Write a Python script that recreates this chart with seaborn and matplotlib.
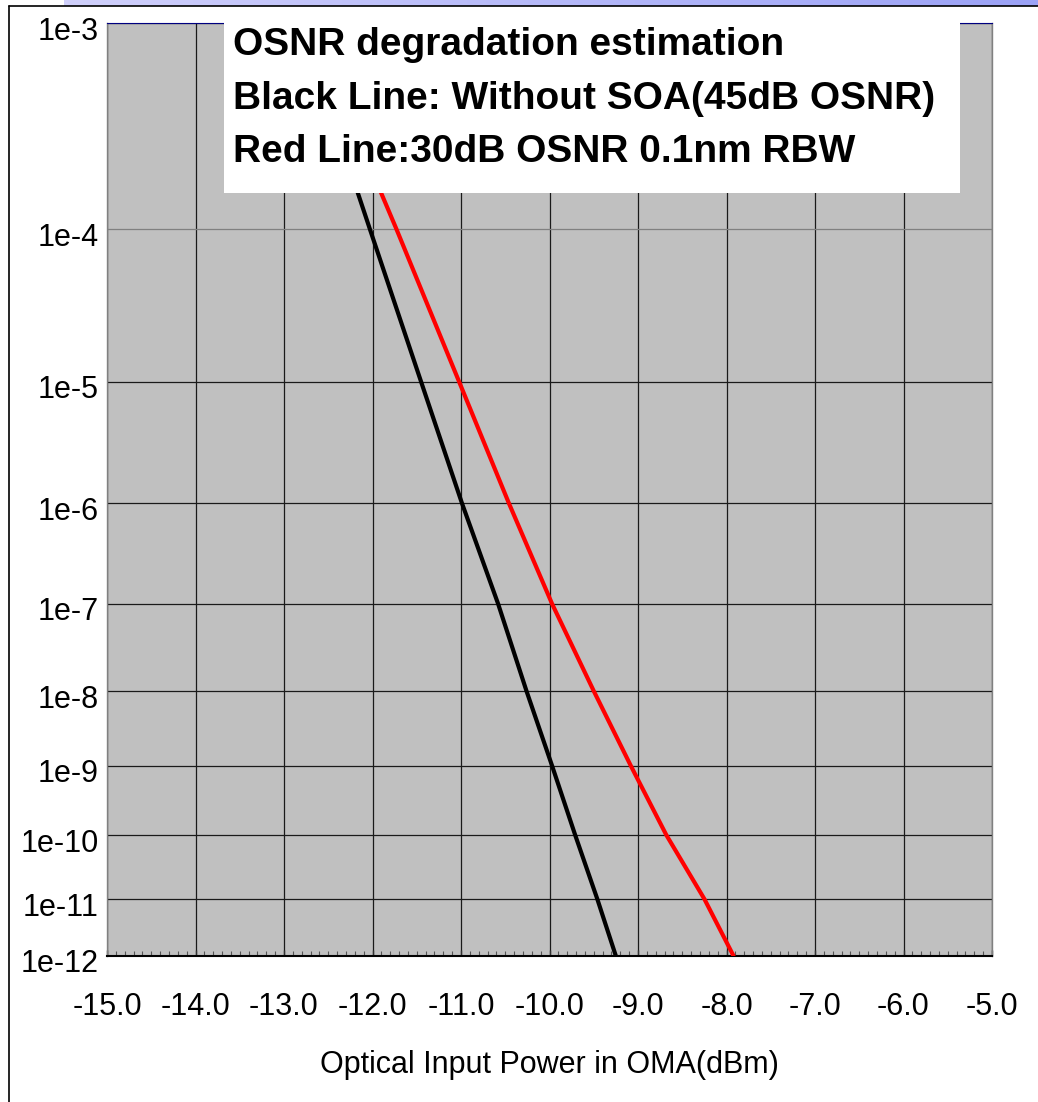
"""
plot.py  ---  BER vs puissance optique (OMA), estimation degradation OSNR
"""
import numpy as np
import pandas as pd
import matplotlib
matplotlib.use("Agg")
import matplotlib.pyplot as plt
import matplotlib.scale as mscale
from matplotlib.colors import LinearSegmentedColormap
from matplotlib.lines import Line2D
from matplotlib.patches import Rectangle
from matplotlib.ticker import MultipleLocator, NullLocator, FormatStrFormatter
from matplotlib.transforms import ScaledTranslation
import seaborn as sns

# --- donnees (BER par decade) ---
BER = [3e-4, 1e-4, 1e-5, 1e-6, 1e-7, 1e-8, 1e-9, 1e-10, 1e-11, 1e-12]
P_BLACK = [-12.40, -12.03, -11.45, -10.99, -10.58, -10.26, -9.97, -9.71, -9.46, -9.25]
P_RED = [-12.20, -11.73, -11.02, -10.46, -9.97, -9.50, -9.08, -8.68, -8.25, -7.92]
SERIES = ["Without SOA", "30dB OSNR"]

BER_TICKS = [1e-3, 1e-4, 1e-5, 1e-6, 1e-7, 1e-8, 1e-9, 1e-10, 1e-11, 1e-12]
YTICK_LABELS = ["1e-3", "1e-4", "1e-5", "1e-6", "1e-7", "1e-8", "1e-9", "1e-10", "1e-11", "1e-12"]
TITLE_LINES = ["OSNR degradation estimation",
               "Black Line: Without SOA(45dB OSNR)",
               "Red Line:30dB OSNR 0.1nm RBW"]

# echelle BER non uniforme : hauteur (px) de chaque decade au-dessus de 1e-12
EXPS = np.arange(-12, -2)
HEIGHTS = np.array([0, 57, 121, 190, 265, 352, 453, 574, 727, 933], float)


def ber_fwd(y):
    y = np.asarray(y, float)
    e = np.log10(np.clip(y, 1e-300, None))
    return np.interp(e, EXPS, HEIGHTS)


def ber_inv(h):
    return 10.0 ** np.interp(np.asarray(h, float), HEIGHTS, EXPS)


sns.set_theme(style="white")
plt.rcParams["font.family"] = ["Liberation Sans", "DejaVu Sans"]
plt.rcParams.update({"text.color": "black", "axes.labelcolor": "black",
                     "xtick.color": "black", "ytick.color": "black"})

W, H = 1038, 1102
fig = plt.figure(figsize=(W / 100, H / 100), dpi=100)
fig.patch.set_facecolor("white")

# bandeau degrade en haut + cadre
band = fig.add_axes([64 / W, 1 - 6 / H, 1 - 64 / W, 6 / H])
band.imshow(np.linspace(0, 1, 256)[None, :], aspect="auto",
            cmap=LinearSegmentedColormap.from_list("b", ["#d0d0fb", "#9ba2f6"]))
band.axis("off")
fig.add_artist(Line2D([9 / W, 1], [1 - 6 / H, 1 - 6 / H], color="black", lw=1.2))
fig.add_artist(Line2D([9 / W, 9 / W], [0, 1 - 6 / H], color="black", lw=1.2))

ax = fig.add_axes([107 / W, (H - 956) / H, 885 / W, 933 / H])
ax.set_facecolor("#c0c0c0")

df = pd.concat([
    pd.DataFrame({"power": P_BLACK, "ber": BER, "serie": SERIES[0]}),
    pd.DataFrame({"power": P_RED, "ber": BER, "serie": SERIES[1]}),
])
ax.set_yscale(mscale.FuncScale(ax.yaxis, (ber_fwd, ber_inv)))
sns.lineplot(data=df, x="power", y="ber", hue="serie", palette=["black", "#ff0000"],
             sort=False, estimator=None, lw=3, legend=False, ax=ax, zorder=3)

ax.set_xlim(-15, -5)
ax.set_ylim(1e-12, 1e-3)
ax.set_xticks(np.arange(-15, -4, 1.0))
ax.xaxis.set_major_formatter(FormatStrFormatter("%.1f"))
ax.xaxis.set_minor_locator(MultipleLocator(0.1))
ax.set_yticks(BER_TICKS, labels=YTICK_LABELS)
ax.yaxis.set_minor_locator(NullLocator())

ax.grid(True, which="major", color="#1a1a1a", lw=0.9)
ax.get_ygridlines()[1].set_color("#808080")
ax.tick_params(axis="x", which="major", direction="in", length=4, width=1,
               color="#333333", labelsize=22, pad=26, bottom=True)
ax.tick_params(axis="x", which="minor", direction="in", length=3.5, width=0.8,
               color="#555555", bottom=True)
ax.tick_params(axis="y", length=0, labelsize=22, pad=6)
for lab in ax.get_yticklabels():
    lab.set_transform(lab.get_transform() + ScaledTranslation(0, -5 / 100, fig.dpi_scale_trans))

for s in ["left", "right"]:
    ax.spines[s].set_color("#808080"); ax.spines[s].set_linewidth(1)
ax.spines["top"].set_color("#000080"); ax.spines["top"].set_linewidth(0.8)
ax.spines["bottom"].set_color("black"); ax.spines["bottom"].set_linewidth(1.5)

ax.set_xlabel("Optical Input Power in OMA(dBm)", fontsize=22, labelpad=20)
ax.set_ylabel("")

# encadre titre (masque le haut des courbes et le bord superieur)
y0 = (956 - 193) / 933
ax.add_patch(Rectangle(((224 - 107) / 885, y0), (960 - 224) / 885, 1 - y0 + 2 / 933,
                       transform=ax.transAxes, facecolor="white", edgecolor="none",
                       zorder=5, clip_on=False))
for txt, yb in zip(TITLE_LINES, [55, 109, 162]):
    fig.text(233 / W, 1 - yb / H, txt, fontsize=28, fontweight="bold", color="black",
             va="baseline", ha="left", zorder=6)

fig.savefig("out.png", dpi=100)
